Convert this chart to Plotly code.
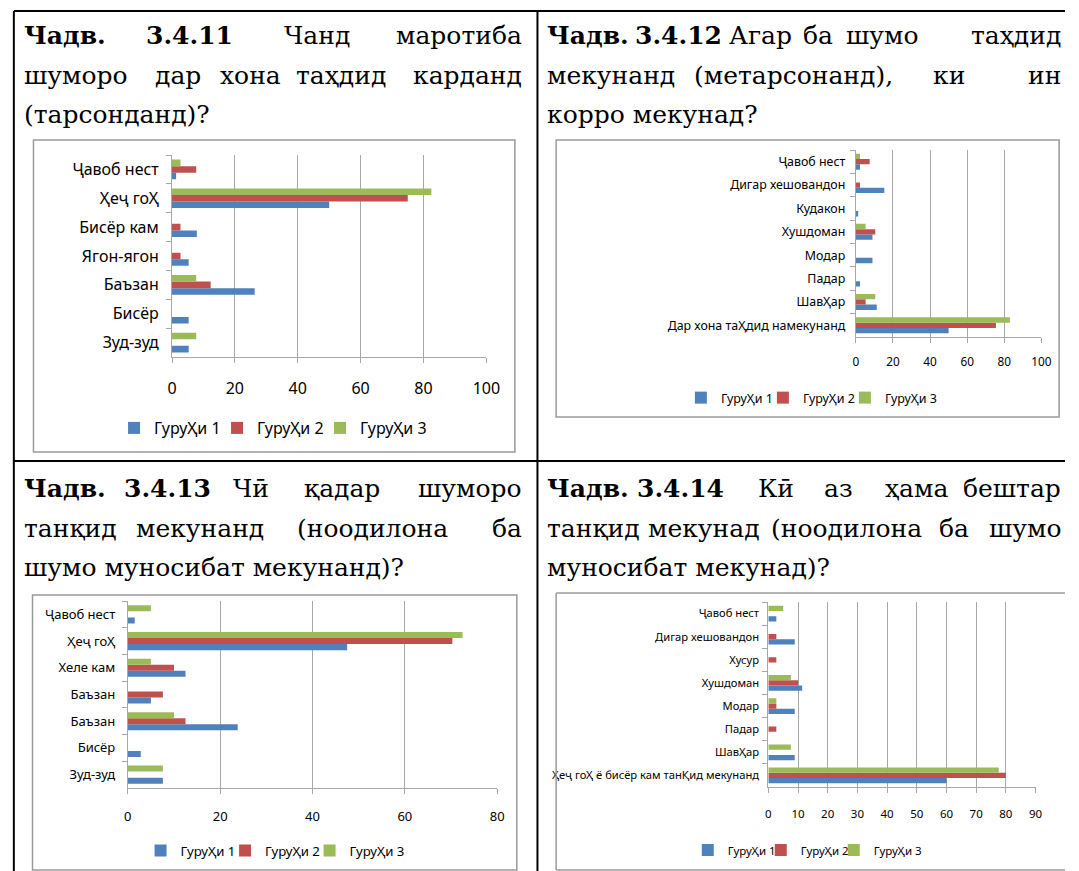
import plotly.graph_objects as go

W, H = 1079, 871

groups = ["ГуруҲи 1", "ГуруҲи 2", "ГуруҲи 3"]
colors = ["#4F81BD", "#C0504D", "#9BBB59"]

# Chart 3.4.11 (categories listed top to bottom)
cats1 = ["Ҷавоб нест", "Ҳеҷ гоҲ", "Бисёр кам", "Ягон-ягон", "Баъзан", "Бисёр", "Зуд-зуд"]
g1_1 = [1.3, 50.0, 7.9, 5.3, 26.3, 5.3, 5.3]
g2_1 = [7.7, 75.0, 2.7, 2.7, 12.3, 0, 0]
g3_1 = [2.7, 82.5, 0, 0, 7.7, 0, 7.7]

# Chart 3.4.12
cats2 = ["Ҷавоб нест", "Дигар хешовандон", "Кудакон", "Хушдоман", "Модар", "Падар",
         "ШавҲар", "Дар хона таҲдид намекунанд"]
g1_2 = [2.3, 15.4, 1.3, 9.0, 9.0, 2.3, 11.3, 50.0]
g2_2 = [7.5, 2.3, 0, 10.5, 0, 0, 5.3, 75.5]
g3_2 = [2.3, 0, 0, 5.3, 0, 0, 10.5, 83.0]

# Chart 3.4.13
cats3 = ["Ҷавоб нест", "Ҳеҷ гоҲ", "Хеле кам", "Баъзан", "Баъзан\u200b", "Бисёр", "Зуд-зуд"]
g1_3 = [1.5, 47.5, 12.5, 5.0, 23.8, 2.8, 7.6]
g2_3 = [0, 70.3, 10.0, 7.6, 12.5, 0, 0]
g3_3 = [5.0, 72.5, 5.0, 0, 10.0, 0, 7.6]

# Chart 3.4.14
cats4 = ["Ҷавоб нест", "Дигар хешовандон", "Хусур", "Хушдоман", "Модар", "Падар",
         "ШавҲар", "Ҳеҷ гоҲ ё бисёр кам танҚид мекунанд"]
g1_4 = [2.7, 8.9, 0, 11.4, 8.9, 0, 8.9, 60.0]
g2_4 = [0, 2.7, 2.7, 10.0, 2.7, 2.7, 0, 80.0]
g3_4 = [5.0, 0, 0, 7.6, 2.7, 0, 7.6, 77.6]

SANS = "Noto Sans, Open Sans, sans-serif"
SERIF = "DejaVu Serif, Liberation Serif, serif"

charts = [
    dict(cats=cats1, vals=[g1_1, g2_1, g3_1], x=(170, 490), y=(155, 357), rng=100, dt=20,
         tf=16, cf=16, xs=12, ys=9, leg=(111, 428), ew=58, lf=16),
    dict(cats=cats2, vals=[g1_2, g2_2, g3_2], x=(866, 1055), y=(150, 337), rng=100, dt=20,
         tf=11.8, cf=12.4, xs=9, ys=7, leg=(688, 398), ew=37, lf=12.5),
    dict(cats=cats3, vals=[g1_3, g2_3, g3_3], x=(125, 501), y=(601, 788), rng=80, dt=20,
         tf=13, cf=13, xs=11, ys=9, leg=(138, 851), ew=39.5, lf=13.2),
    dict(cats=cats4, vals=[g1_4, g2_4, g3_4], x=(777, 1049), y=(602, 787), rng=90, dt=10,
         tf=11.5, cf=11.2, xs=11, ys=6, leg=(695, 850), ew=28, lf=11.5),
]

fig = go.Figure()
layout = dict(
    width=W, height=H, margin=dict(l=0, r=0, t=0, b=0),
    paper_bgcolor="white", plot_bgcolor="white",
    barmode="group", bargap=0.32, bargroupgap=0,
    font=dict(family=SANS, color="#000000"),
)

for i, c in enumerate(charts, start=1):
    xa = "x" if i == 1 else f"x{i}"
    ya = "y" if i == 1 else f"y{i}"
    lg = "legend" if i == 1 else f"legend{i}"
    for g, vals, col in zip(groups, c["vals"], colors):
        fig.add_trace(go.Bar(
            y=c["cats"], x=vals, orientation="h", name=g,
            marker=dict(color=col, line=dict(width=0)),
            xaxis=xa, yaxis=ya, legend=lg, showlegend=True,
        ))
    # empty legend slot so the last legend label is not clipped
    fig.add_trace(go.Scatter(
        x=[None], y=[None], mode="markers", name=" ",
        marker=dict(color="rgba(0,0,0,0)", size=1),
        xaxis=xa, yaxis=ya, legend=lg, showlegend=True, hoverinfo="skip",
    ))
    x0, x1 = c["x"]
    yt, yb = c["y"]
    layout["xaxis" if i == 1 else f"xaxis{i}"] = dict(
        domain=[x0 / W, x1 / W], anchor=ya, range=[0, c["rng"]], dtick=c["dt"],
        showgrid=True, gridcolor="#a8a8a8", gridwidth=1,
        showline=True, linecolor="#a8a8a8", linewidth=1,
        ticks="outside", ticklen=5, tickcolor="#a8a8a8",
        tickfont=dict(size=c["tf"], family=SANS, color="#000"),
        ticklabelstandoff=c["xs"], zeroline=False, fixedrange=True,
    )
    layout["yaxis" if i == 1 else f"yaxis{i}"] = dict(
        domain=[1 - yb / H, 1 - yt / H], anchor=xa, type="category",
        categoryorder="array", categoryarray=list(reversed(c["cats"])),
        showgrid=False, showline=True, linecolor="#a8a8a8", linewidth=1,
        ticks="outside", ticklen=5, tickcolor="#a8a8a8", tickson="boundaries",
        tickfont=dict(size=c["cf"], family=SANS, color="#000"),
        ticklabelstandoff=c["ys"], fixedrange=True,
    )
    lx, ly = c["leg"]
    layout[lg] = dict(
        orientation="h", x=lx / W, y=1 - ly / H, xanchor="left", yanchor="middle",
        xref="paper", yref="paper", bgcolor="rgba(0,0,0,0)", borderwidth=0,
        entrywidth=c["ew"], entrywidthmode="pixels",
        font=dict(size=c["lf"], family=SANS, color="#000"),
        traceorder="normal",
    )

fig.update_layout(**layout)


def px_line(ax0, ay0, ax1, ay1, color, width):
    fig.add_shape(type="line", xref="paper", yref="paper",
                  x0=ax0 / W, x1=ax1 / W, y0=1 - ay0 / H, y1=1 - ay1 / H,
                  line=dict(color=color, width=width))


# Chart-area boxes
GRAY = "#9a9a9a"
for (bx0, by0, bx1, by1) in [(29, 140, 519, 452), (561, 140, 1073, 417), (28, 595, 521, 870)]:
    fig.add_shape(type="rect", xref="paper", yref="paper",
                  x0=bx0 / W, x1=bx1 / W, y0=1 - by1 / H, y1=1 - by0 / H,
                  line=dict(color=GRAY, width=1.5), fillcolor="rgba(0,0,0,0)", layer="below")
# chart 4 box runs off the right edge
px_line(561, 593, 1079, 593, GRAY, 1.5)
px_line(561, 593, 561, 870, GRAY, 1.5)
px_line(561, 870, 1079, 870, GRAY, 1.5)

# Table lines
for (ax0, ay0, ax1, ay1) in [(9, 11, 1079, 11), (9, 11, 9, 871), (542, 11, 542, 871), (9, 461, 1079, 461)]:
    px_line(ax0, ay0, ax1, ay1, "#000000", 2)

# Heading words: (text, x, y, anchor, bold)
HS = 25
heading = [
    ("Чадв.", 22, 35, "left", True), ("3.4.11", 188, 35, "center", True),
    ("Чанд", 318, 35, "center", False), ("маротиба", 528, 35, "right", False),
    ("шуморо", 22, 75, "left", False), ("дар", 176, 75, "center", False),
    ("хона", 250, 75, "center", False), ("таҳдид", 342, 75, "center", False),
    ("карданд", 528, 75, "right", False),
    ("(тарсонданд)?", 22, 115, "left", False),

    ("Чадв.", 555, 35, "left", True), ("3.4.12", 686, 35, "center", True),
    ("Агар", 769, 35, "center", False), ("ба", 828, 35, "center", False),
    ("шумо", 893, 35, "center", False), ("таҳдид", 1077, 35, "right", False),
    ("мекунанд", 555, 75, "left", False), ("(метарсонанд),", 803, 75, "center", False),
    ("ки", 961, 75, "center", False), ("ин", 1077, 75, "right", False),
    ("корро мекунад?", 555, 115, "left", False),

    ("Чадв.", 22, 488, "left", True), ("3.4.13", 165, 488, "center", True),
    ("Чӣ", 250, 488, "center", False), ("қадар", 343, 488, "center", False),
    ("шуморо", 528, 488, "right", False),
    ("танқид", 22, 528, "left", False), ("мекунанд", 198, 528, "center", False),
    ("(ноодилона", 374, 528, "center", False), ("ба", 528, 528, "right", False),
    ("шумо муносибат мекунанд)?", 22, 567, "left", False),

    ("Чадв.", 555, 488, "left", True), ("3.4.14", 688, 488, "center", True),
    ("Кӣ", 785, 488, "center", False), ("аз", 848, 488, "center", False),
    ("ҳама", 928, 488, "center", False), ("бештар", 1077, 488, "right", False),
    ("танқид", 555, 528, "left", False), ("мекунад", 712, 528, "center", False),
    ("(ноодилона", 857, 528, "center", False), ("ба", 966, 528, "center", False),
    ("шумо", 1077, 528, "right", False),
    ("муносибат мекунад)?", 555, 567, "left", False),
]
SHIFT = {"left": -5, "center": 0, "right": 0}
for (t, hx, hy, anc, b) in heading:
    fig.add_annotation(
        text=f"<b>{t}</b>" if b else t, xref="paper", yref="paper",
        x=hx / W, y=1 - hy / H, xanchor=anc, yanchor="middle", showarrow=False,
        xshift=SHIFT[anc],
        font=dict(family=SERIF, size=HS, color="#000"),
    )

fig.write_html("out.html", config={"displayModeBar": False},
               post_script="document.body.style.margin='0px';document.body.style.overflow='hidden';")
